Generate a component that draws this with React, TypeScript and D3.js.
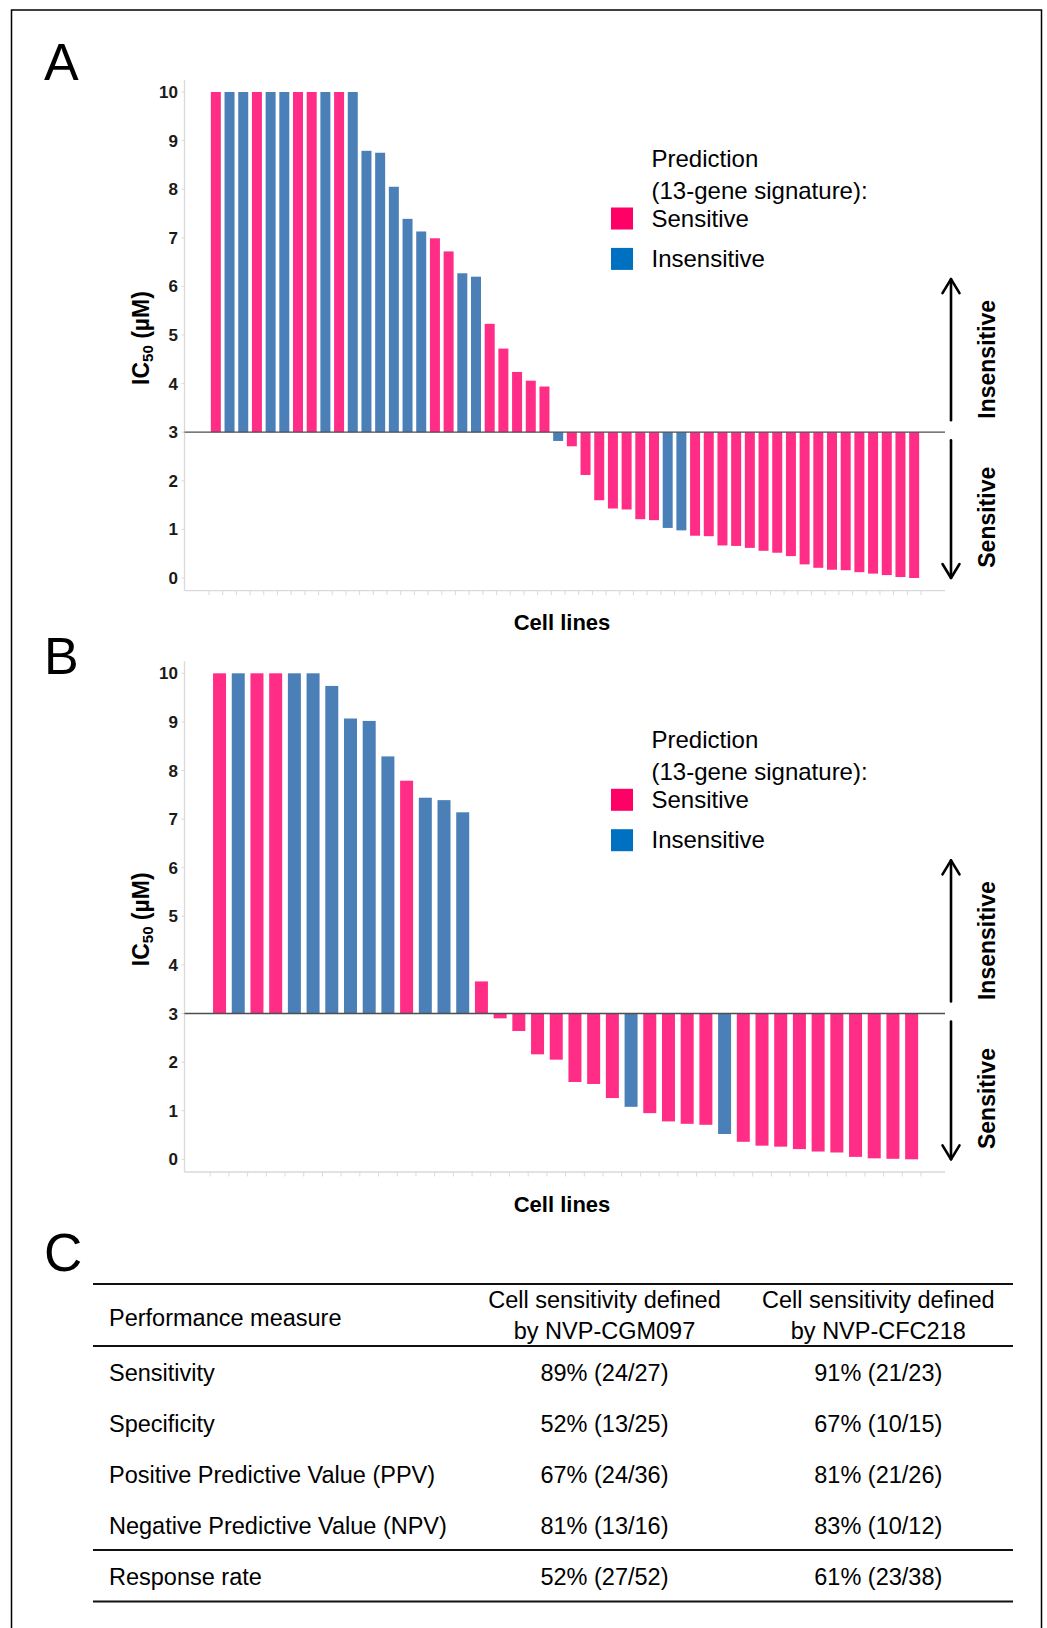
import React from 'react';
import * as d3 from 'd3';

// IC50 values (µM) per cell line, panel A (NVP-CGM097) and panel B (NVP-CFC218)
const valuesA = [10, 10, 10, 10, 10, 10, 10, 10, 10, 10, 10, 8.79, 8.75, 8.05, 7.39, 7.13, 6.99, 6.72, 6.27, 6.2, 5.23, 4.72, 4.24, 4.06, 3.94,
  2.82, 2.71, 2.12, 1.6, 1.43, 1.41, 1.21, 1.19, 1.03, 0.98, 0.87, 0.86, 0.67, 0.66, 0.62, 0.56, 0.52, 0.45, 0.28, 0.21, 0.17, 0.16, 0.12, 0.09, 0.06, 0.02, 0.0];
// prediction by 13-gene signature: S = sensitive, I = insensitive
const predA = ['S', 'I', 'I', 'S', 'I', 'I', 'S', 'S', 'I', 'S', 'I', 'I', 'I', 'I', 'I', 'I', 'S', 'S', 'I', 'I', 'S', 'S', 'S', 'S', 'S',
  'I', 'S', 'S', 'S', 'S', 'S', 'S', 'S', 'I', 'I', 'S', 'S', 'S', 'S', 'S', 'S', 'S', 'S', 'S', 'S', 'S', 'S', 'S', 'S', 'S', 'S', 'S'];

const valuesB = [10, 10, 10, 10, 10, 10, 9.74, 9.07, 9.02, 8.29, 7.79, 7.44, 7.39, 7.14, 3.66,
  2.9, 2.64, 2.16, 2.05, 1.59, 1.55, 1.26, 1.08, 0.95, 0.78, 0.73, 0.71, 0.52, 0.36, 0.28, 0.26, 0.21, 0.16, 0.14, 0.05, 0.02, 0.01, 0.0];
const predB = ['S', 'I', 'S', 'S', 'I', 'I', 'I', 'I', 'I', 'I', 'S', 'I', 'I', 'I', 'S',
  'S', 'S', 'S', 'S', 'S', 'S', 'S', 'I', 'S', 'S', 'S', 'S', 'I', 'S', 'S', 'S', 'S', 'S', 'S', 'S', 'S', 'S', 'S'];

const yTicks = [0, 1, 2, 3, 4, 5, 6, 7, 8, 9, 10];
const threshold = 3;

const legendItems = [
  { key: 'S', label: 'Sensitive' },
  { key: 'I', label: 'Insensitive' },
];

const tableMeasures = ['Sensitivity', 'Specificity', 'Positive Predictive Value (PPV)', 'Negative Predictive Value (NPV)'];
const colCGM097 = ['89% (24/27)', '52% (13/25)', '67% (24/36)', '81% (13/16)'];
const colCFC218 = ['91% (21/23)', '67% (10/15)', '81% (21/26)', '83% (10/12)'];
const responseRate = ['52% (27/52)', '61% (23/38)'];
const colHeaders = [['Cell sensitivity defined', 'by NVP-CGM097'], ['Cell sensitivity defined', 'by NVP-CFC218']];

const barColor = { S: '#ff2d86', I: '#4a80b7' };
const legendColor = { S: '#ff0066', I: '#0070c0' };
const FONT = '"Liberation Sans", Arial, Helvetica, sans-serif';

type PanelProps = {
  values: number[];
  pred: string[];
  top: number; // pixel y of value 10
  xRange: [number, number];
  pad: number;
};

const Panel = ({ values, pred, top, xRange, pad }: PanelProps) => {
  const unit = 48.6;
  const y = d3.scaleLinear().domain([0, 10]).range([top + 10 * unit, top]);
  const x = d3.scaleBand<number>()
    .domain(d3.range(values.length))
    .range(xRange)
    .paddingInner(pad)
    .paddingOuter(pad / 2);

  const axisX = 184.5;
  const axisY = top + 10 * unit + 12.7;
  const right = 945;
  const boundaries = d3.range(values.length + 1).map(i => xRange[0] + i * x.step());
  const arrowX = 951;
  const yMid = top + 246; // axis title centre
  const tipUp = y(6.15);

  return (
    <g>
      {/* axes */}
      <line x1={axisX} x2={axisX} y1={top - 12} y2={axisY} stroke="#d9d9d9" strokeWidth={1.3} />
      <line x1={axisX} x2={right} y1={axisY} y2={axisY} stroke="#d9d9d9" strokeWidth={1.3} />
      {boundaries.map((b, i) => (
        <line key={i} x1={b} x2={b} y1={axisY} y2={axisY + 4.5} stroke="#d9d9d9" strokeWidth={1} />
      ))}
      {yTicks.map(t => (
        <g key={t}>
          <line x1={axisX - 3} x2={axisX} y1={y(t)} y2={y(t)} stroke="#d9d9d9" strokeWidth={1} />
          <text x={178} y={y(t) + 6} textAnchor="end" fontSize={17} fontWeight="bold" fill="#1a1a1a">{t}</text>
        </g>
      ))}

      {/* bars from threshold */}
      {values.map((v, i) => (
        <rect
          key={i}
          x={x(i)}
          width={x.bandwidth()}
          y={Math.min(y(v), y(threshold))}
          height={Math.abs(y(v) - y(threshold))}
          fill={barColor[pred[i]]}
        />
      ))}
      <line x1={axisX} x2={right} y1={y(threshold)} y2={y(threshold)} stroke="#4d4d4d" strokeWidth={1.3} />

      {/* axis titles */}
      <text transform={`translate(149,${yMid}) rotate(-90)`} textAnchor="middle" fontSize={23} fontWeight="bold" fill="#000">
        IC<tspan fontSize={15} dy={4}>50</tspan><tspan dy={-4}> (µM)</tspan>
      </text>
      <text x={562} y={axisY + 39.5} textAnchor="middle" fontSize={22} fontWeight="bold" fill="#000">Cell lines</text>

      {/* legend */}
      <text x={651.5} y={top + 75} fontSize={24} fill="#000">Prediction</text>
      <text x={651.5} y={top + 107} fontSize={24} fill="#000">(13-gene signature):</text>
      {legendItems.map((d, i) => (
        <g key={d.key}>
          <rect x={611} y={top + 115.5 + i * 40.4} width={22} height={22} fill={legendColor[d.key]} />
          <text x={651.5} y={top + 134.5 + i * 40.4} fontSize={24} fill="#000">{d.label}</text>
        </g>
      ))}

      {/* direction arrows */}
      <g stroke="#000" strokeWidth={2.6} fill="none" strokeLinecap="round" strokeLinejoin="round">
        <line x1={arrowX} x2={arrowX} y1={y(threshold) - 12} y2={tipUp} />
        <polyline points={`${arrowX - 8.5},${tipUp + 14} ${arrowX},${tipUp} ${arrowX + 8.5},${tipUp + 14}`} />
        <line x1={arrowX} x2={arrowX} y1={y(threshold) + 8} y2={y(0)} />
        <polyline points={`${arrowX - 8.5},${y(0) - 14} ${arrowX},${y(0)} ${arrowX + 8.5},${y(0) - 14}`} />
      </g>
      <text transform={`translate(995,${y(4.5)}) rotate(-90)`} textAnchor="middle" fontSize={23} fontWeight="bold" fill="#000">Insensitive</text>
      <text transform={`translate(995,${y(1.25)}) rotate(-90)`} textAnchor="middle" fontSize={23} fontWeight="bold" fill="#000">Sensitive</text>
    </g>
  );
};

const Table = () => {
  const left = 93;
  const right = 1013;
  const c1 = 604.5;
  const c2 = 878.3;
  const rowY = [1381, 1432, 1483, 1534];
  return (
    <g fontSize={23.5} fill="#000">
      <line x1={left} x2={right} y1={1284} y2={1284} stroke="#111" strokeWidth={2} />
      <line x1={left} x2={right} y1={1346} y2={1346} stroke="#111" strokeWidth={2} />
      <line x1={left} x2={right} y1={1550} y2={1550} stroke="#111" strokeWidth={2} />
      <line x1={left} x2={right} y1={1601.5} y2={1601.5} stroke="#111" strokeWidth={2} />
      <text x={109} y={1326}>Performance measure</text>
      {colHeaders.map((h, j) => (
        <g key={j}>
          <text x={j === 0 ? c1 : c2} y={1308} textAnchor="middle">{h[0]}</text>
          <text x={j === 0 ? c1 : c2} y={1339} textAnchor="middle">{h[1]}</text>
        </g>
      ))}
      {tableMeasures.map((m, i) => (
        <g key={m}>
          <text x={109} y={rowY[i]}>{m}</text>
          <text x={c1} y={rowY[i]} textAnchor="middle">{colCGM097[i]}</text>
          <text x={c2} y={rowY[i]} textAnchor="middle">{colCFC218[i]}</text>
        </g>
      ))}
      <text x={109} y={1585}>Response rate</text>
      <text x={c1} y={1585} textAnchor="middle">{responseRate[0]}</text>
      <text x={c2} y={1585} textAnchor="middle">{responseRate[1]}</text>
    </g>
  );
};

export default function App() {
  return (
    <svg
      width={1047}
      height={1628}
      style={{ position: 'absolute', left: 0, top: 0, background: '#fff' }}
      fontFamily={FONT}
    >
      <rect x={0} y={0} width={1047} height={1628} fill="#fff" />
      <rect x={11.5} y={10} width={1030} height={1640} fill="none" stroke="#000" strokeWidth={1.5} />

      <text x={44} y={80} fontSize={52}>A</text>
      <text x={44} y={674} fontSize={52}>B</text>
      <text x={44} y={1271} fontSize={53}>C</text>

      <Panel values={valuesA} pred={predA} top={92} xRange={[209, 921]} pad={0.27} />
      <Panel values={valuesB} pred={predB} top={673.3} xRange={[210.2, 921]} pad={0.305} />
      <Table />
    </svg>
  );
}
